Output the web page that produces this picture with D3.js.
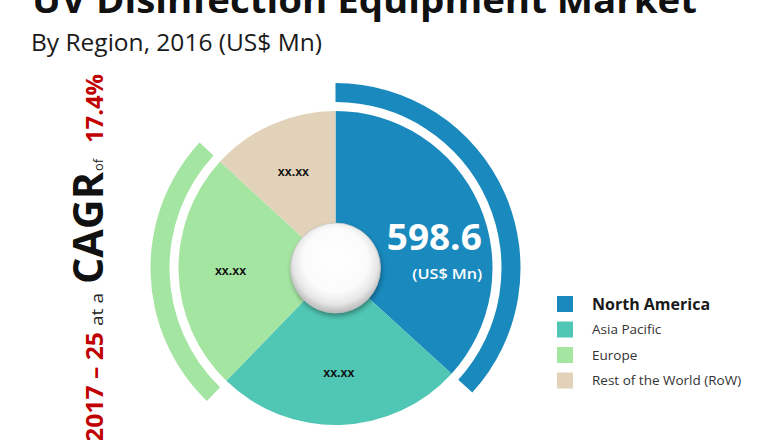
<!DOCTYPE html>
<html><head><meta charset="utf-8">
<script src="https://cdn.jsdelivr.net/npm/d3@7"></script>
<style>body{margin:0;background:#fff}svg{display:block}</style>
</head><body><svg id="c" width="780" height="440"></svg>
<script>
// ---- data ----
const regions = ["North America", "Asia Pacific", "Europe", "Rest of the World (RoW)"];
const values = [598.6, 415.0, 401.0, 214.0];
const valueLabels = ["598.6", "xx.xx", "xx.xx", "xx.xx"];
const unitLabel = "(US$ Mn)";
const colors = ["#1a89bd", "#50c6b4", "#a5e5a2", "#e2d2ba"];
const ringedRegions = ["North America", "Europe"];
const title = "UV Disinfection Equipment Market";
const subtitle = "By Region, 2016 (US$ Mn)";
const cagrParts = ["2017 \u2013 25", "at a", "CAGR", "of", "17.4%"];

// ---- drawing ----
const svg = d3.select("#c");
const FONT = "'Open Sans', 'Noto Sans', sans-serif";
const defs = svg.append("defs");

// title & subtitle
svg.append("text").attr("x", 32).attr("y", 13)
  .attr("font-family", FONT).attr("font-weight", 700).attr("font-size", 36)
  .attr("fill", "#111").attr("textLength", 665).attr("lengthAdjust", "spacingAndGlyphs")
  .text(title);
svg.append("text").attr("x", 31).attr("y", 51)
  .attr("font-family", FONT).attr("font-size", 23.5)
  .attr("fill", "#1a1a1a").attr("textLength", 291).attr("lengthAdjust", "spacingAndGlyphs")
  .text(subtitle);

// vertical CAGR text
const cagrStyle = [
  {y: 442, len: 110, size: 24, w: 700, fill: "#c00000"},
  {y: 326, len: 33, size: 16, w: 400, fill: "#222"},
  {y: 284, len: 112, size: 41, w: 700, fill: "#111"},
  {y: 171, len: 12, size: 13, w: 400, fill: "#222"},
  {y: 143, len: 69, size: 24, w: 700, fill: "#c00000"}
];
cagrParts.forEach((t, i) => {
  const s = cagrStyle[i];
  svg.append("text")
    .attr("transform", `translate(103,${s.y}) rotate(-90)`)
    .attr("font-family", FONT).attr("font-weight", s.w).attr("font-size", s.size)
    .attr("fill", s.fill).attr("textLength", s.len).attr("lengthAdjust", "spacingAndGlyphs")
    .text(t);
});

// pie
const cx = 335.5, cy = 268, R = 157;
const g = svg.append("g").attr("transform", `translate(${cx},${cy})`);
const pie = d3.pie().sort(null).value(d => d.v);
const data = pie(regions.map((r, i) => ({r, v: values[i], label: valueLabels[i], color: colors[i]})));
const arc = d3.arc().innerRadius(0).outerRadius(R);
const ring = d3.arc().innerRadius(166).outerRadius(185);

g.selectAll("path.slice").data(data).join("path")
  .attr("class", "slice").attr("d", arc).attr("fill", d => d.data.color);

g.selectAll("path.ring").data(data.filter(d => ringedRegions.includes(d.data.r))).join("path")
  .attr("class", "ring").attr("d", ring).attr("fill", d => d.data.color);

// labels
const labelArc = d3.arc().innerRadius(105).outerRadius(105);
data.forEach((d, i) => {
  if (i === 0) {
    const [x, y] = d3.arc().innerRadius(R * 0.66).outerRadius(R * 0.66).centroid(d);
    g.append("text").attr("x", x + 4).attr("y", y + 24).attr("text-anchor", "middle")
      .attr("font-family", FONT).attr("font-weight", 700).attr("font-size", 35)
      .attr("fill", "#fff").attr("textLength", 95).attr("lengthAdjust", "spacingAndGlyphs")
      .text(d.data.label);
    g.append("text").attr("x", x + 52).attr("y", y + 53).attr("text-anchor", "end")
      .attr("font-family", FONT).attr("font-weight", 600).attr("font-size", 15)
      .attr("fill", "#fff").attr("textLength", 70).attr("lengthAdjust", "spacingAndGlyphs")
      .text(unitLabel);
  } else {
    const [x, y] = labelArc.centroid(d);
    g.append("text").attr("x", x).attr("y", y).attr("dy", "0.35em").attr("text-anchor", "middle")
      .attr("font-family", "'Liberation Sans', Arial, sans-serif").attr("font-weight", 700)
      .attr("font-size", 12.5).attr("fill", "#111")
      .text(d.data.label);
  }
});

// center glossy circle
const grad = defs.append("radialGradient").attr("id", "knob")
  .attr("cx", "50%").attr("cy", "45%").attr("r", "55%").attr("fx", "50%").attr("fy", "35%");
grad.append("stop").attr("offset", "0%").attr("stop-color", "#ffffff");
grad.append("stop").attr("offset", "65%").attr("stop-color", "#fbfbfb");
grad.append("stop").attr("offset", "85%").attr("stop-color", "#e6e6e6");
grad.append("stop").attr("offset", "100%").attr("stop-color", "#b8b8b8");
const blur = defs.append("filter").attr("id", "sh").attr("x", "-30%").attr("y", "-30%").attr("width", "160%").attr("height", "160%");
blur.append("feGaussianBlur").attr("stdDeviation", 2.5);
g.append("circle").attr("cx", 1).attr("cy", 3).attr("r", 45)
  .attr("fill", "#000").attr("opacity", 0.35).attr("filter", "url(#sh)");
g.append("circle").attr("r", 45).attr("fill", "url(#knob)")
  .attr("stroke", "#c8c8c8").attr("stroke-width", 0.8);

// legend
const leg = svg.append("g").attr("transform", "translate(557,296)");
regions.forEach((r, i) => {
  const row = leg.append("g").attr("transform", `translate(0,${i * 25.5})`);
  row.append("rect").attr("width", 16).attr("height", 16).attr("fill", colors[i]);
  row.append("text").attr("x", 35).attr("y", 8).attr("dy", "0.36em")
    .attr("font-family", FONT).attr("font-weight", i === 0 ? 700 : 400)
    .attr("font-size", i === 0 ? 16 : 13.5).attr("fill", i === 0 ? "#1a1a1a" : "#333")
    .text(r);
});
</script></body></html>
